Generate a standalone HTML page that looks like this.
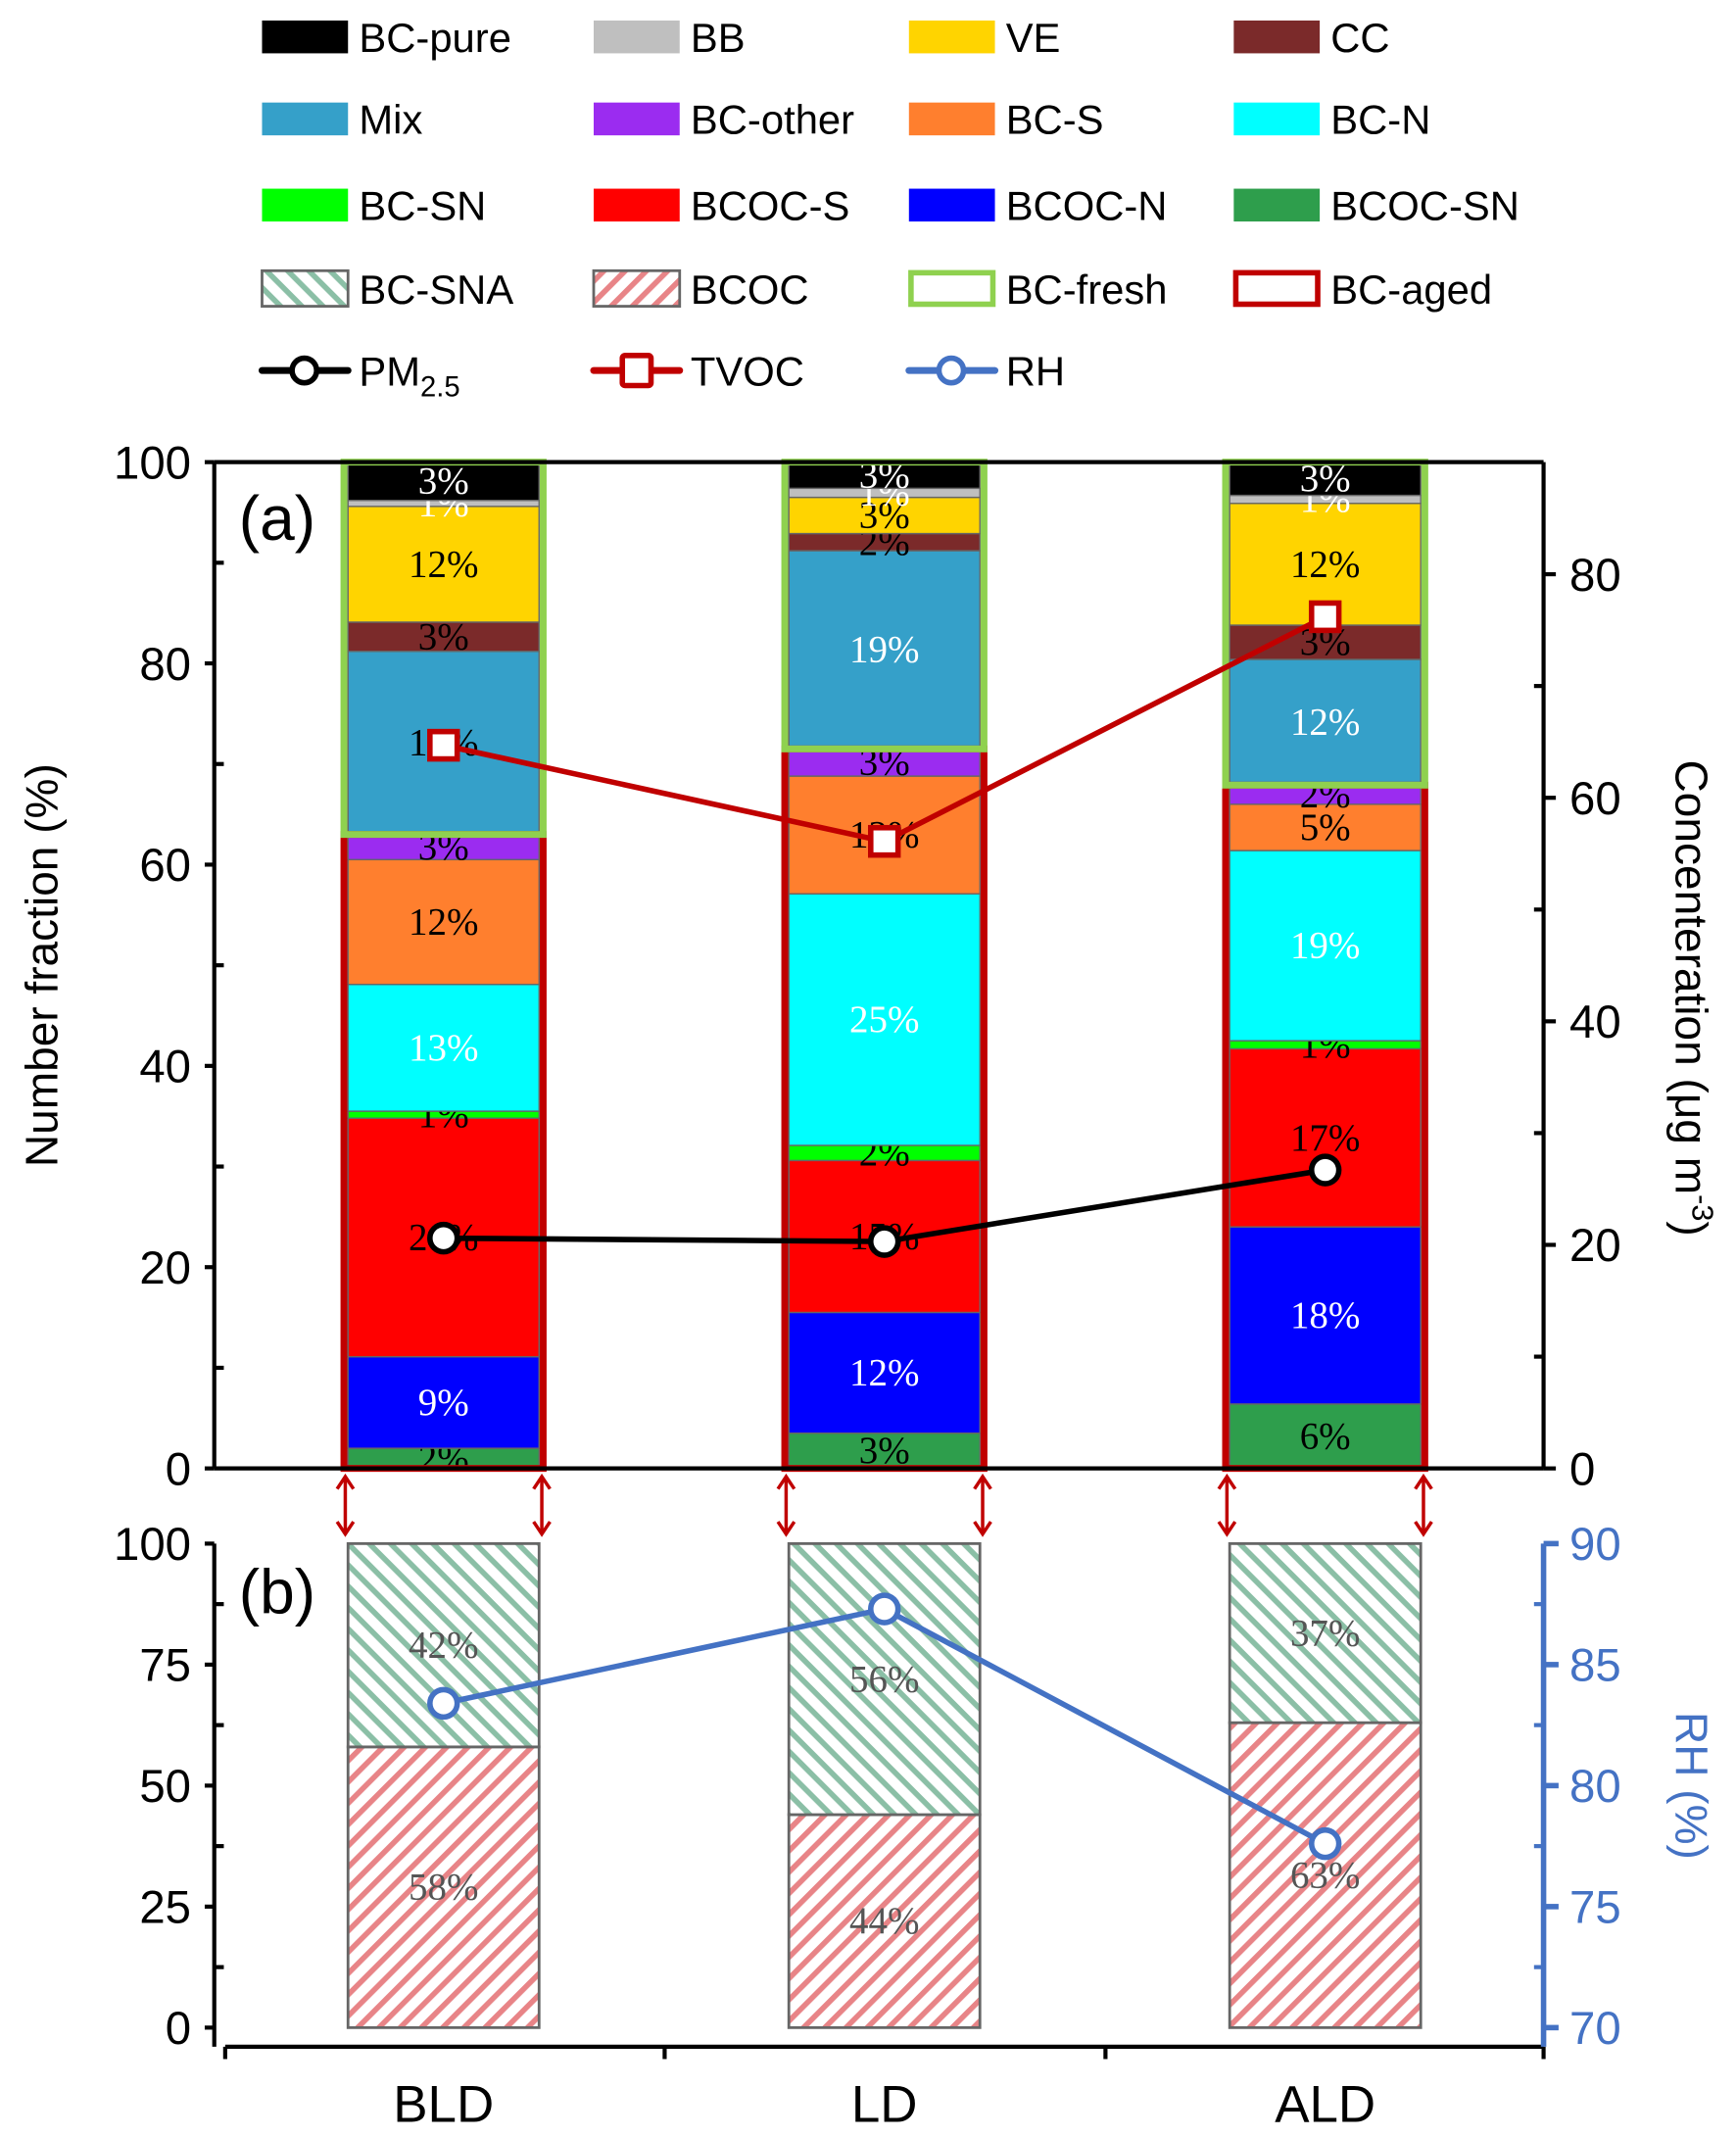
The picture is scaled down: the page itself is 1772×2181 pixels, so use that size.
<!DOCTYPE html>
<html><head><meta charset="utf-8"><style>
html,body{margin:0;padding:0;background:#fff}
svg{display:block}
text{font-family:"Liberation Sans",Arial,sans-serif}
.seg{font-family:"Liberation Serif","Times New Roman",serif;font-size:28px}
</style></head><body>
<svg id="chart" width="1772" height="2181" viewBox="0 0 1272 1563" preserveAspectRatio="none" xmlns="http://www.w3.org/2000/svg">
<defs>
<pattern id="hatchG" patternUnits="userSpaceOnUse" width="11" height="11" patternTransform="rotate(45)">
<rect width="11" height="11" fill="#fff"/><rect width="11" height="4" fill="#8bbfa6"/></pattern>
<pattern id="hatchR" patternUnits="userSpaceOnUse" width="11" height="11" patternTransform="rotate(-45)">
<rect width="11" height="11" fill="#fff"/><rect width="11" height="4" fill="#e88487"/></pattern>
</defs>
<g id="legend"></g>
<g id="panelA"></g>
<g id="panelB"></g>
</svg>
<script>
const categories = ["BLD","LD","ALD"];
const segNames = ["BCOC-SN","BCOC-N","BCOC-S","BC-SN","BC-N","BC-S","BC-other","Mix","CC","VE","BB","BC-pure"];
const segColors = ["#2e9e4c","#0000ff","#ff0000","#00ff00","#00ffff","#ff7f2e","#9b2cf0","#35a0c9","#7b2a2a","#ffd400","#bfbfbf","#000000"];
const valuesBLD = [2,9.1,23.7,0.7,12.6,12.4,2.5,18.2,2.9,11.5,0.6,3.8];
const valuesLD  = [3.5,12,15.1,1.5,25,11.7,2.7,19.7,1.7,3.6,0.9,2.6];
const valuesALD = [6.4,17.6,17.7,0.8,18.9,4.6,1.9,12.5,3.4,12.1,0.8,3.3];
const labelsBLD = ["2%","9%","24%","1%","13%","12%","3%","18%","3%","12%","1%","3%"];
const labelsLD  = ["3%","12%","15%","2%","25%","12%","3%","19%","2%","3%","1%","3%"];
const labelsALD = ["6%","18%","17%","1%","19%","5%","2%","12%","3%","12%","1%","3%"];
const whiteLabel = [false,true,false,false,true,false,false,true,false,false,true,true];
const pm25 = [20.6,20.3,26.7];
const tvoc = [64.7,56.1,76.2];
const bcocFrac = [58,44,63];
const rh = [83.4,87.3,77.6];
const leftTicksA = [0,20,40,60,80,100];
const rightTicksA = [0,20,40,60,80];
const leftTicksB = [0,25,50,75,100];
const rightTicksB = [70,75,80,85,90];

const NS="http://www.w3.org/2000/svg";
function mk(tag,attrs,parent,txt){const e=document.createElementNS(NS,tag);for(const k in attrs)e.setAttribute(k,attrs[k]);if(txt!==undefined)e.textContent=txt;parent.appendChild(e);return e;}
const xC = i => 325 + i*323;
const barW = 140;
const yA = v => 1074 - v*7.36;
const yAR = v => 1074 - v*8.175;
const yB = v => 1483 - v*3.54;
const yBR = v => 1483 - (v-70)*17.7;

// Legend
const L=document.getElementById('legend');
const legCols=[192,435,666,904];
const legRows=[27,87,150,211,271];
const legItems=[["BC-pure","#000"],["BB","#bfbfbf"],["VE","#ffd400"],["CC","#7b2a2a"],
["Mix","#35a0c9"],["BC-other","#9b2cf0"],["BC-S","#ff7f2e"],["BC-N","#00ffff"],
["BC-SN","#00ff00"],["BCOC-S","#ff0000"],["BCOC-N","#0000ff"],["BCOC-SN","#2e9e4c"],
["BC-SNA","hatchG"],["BCOC","hatchR"],["BC-fresh","fresh"],["BC-aged","aged"]];
legItems.forEach((it,k)=>{
  const cx=legCols[k%4], cy=legRows[Math.floor(k/4)];
  const g=mk('g',{},L);
  
  
  let a;
  if(it[1]==="hatchG"||it[1]==="hatchR") a={x:cx,y:cy-13,width:63,height:26,fill:'url(#'+it[1]+')',stroke:'#666','stroke-width':2};
  else if(it[1]==="fresh") a={x:cx+1.5,y:cy-11.5,width:60,height:23,fill:'#fff',stroke:'#8fd14f','stroke-width':4};
  else if(it[1]==="aged") a={x:cx+1.5,y:cy-11.5,width:60,height:23,fill:'#fff',stroke:'#c00000','stroke-width':4};
  else a={x:cx,y:cy-12,width:63,height:24,fill:it[1]};
  mk('rect',a,g);
  mk('text',{x:legCols[k%4]+71,y:cy+11,'font-size':30},g,it[0]);
});
[["PM","#000","circle",192],["TVOC","#c00000","square",435],["RH","#4472c4","circle",666]].forEach(d=>{
  const g=mk('g',{},L);
  
  
  const cy=271;
  mk('line',{x1:d[3],y1:cy,x2:d[3]+63,y2:cy,stroke:d[1],'stroke-width':5,'stroke-linecap':'round'},g);
  if(d[2]==="circle") mk('circle',{cx:d[3]+31,cy:cy,r:9,fill:'#fff',stroke:d[1],'stroke-width':4},g);
  else mk('rect',{x:d[3]+21,y:cy-11,width:21,height:22,fill:'#fff',stroke:d[1],'stroke-width':4,rx:2},g);
  const t=mk('text',{x:d[3]+71,y:cy+11,'font-size':30},g);
  if(d[0]==="PM"){t.textContent="PM";mk('tspan',{'font-size':21,dy:8},t,"2.5");}
  else t.textContent=d[0];
});

// Panel A
const A=document.getElementById('panelA');
const allVals=[valuesBLD,valuesLD,valuesALD], allLabs=[labelsBLD,labelsLD,labelsALD];
allVals.forEach((vals,i)=>{
  const g=mk('g',{},A);
  
  
  let cum=0;
  vals.forEach((v,j)=>{
    const y0=yA(cum), y1=yA(Math.min(cum+v,100));
    const r=mk('rect',{x:xC(i)-barW/2,y:y1,width:barW,height:y0-y1,fill:segColors[j],stroke:'#666','stroke-width':1},g);
    
    
    const white = whiteLabel[j] && !(i===0 && j===7);
    const t=mk('text',{x:xC(i),y:(y0+y1)/2+9,'text-anchor':'middle',class:'seg',fill:white?'#fff':'#000'},g,allLabs[i][j]);
    
    
    cum+=v;
  });
  let aged=0; for(let j=0;j<7;j++) aged+=vals[j];
  const fa=mk('rect',{x:xC(i)-barW/2-3,y:yA(aged),width:barW+6,height:yA(0)-yA(aged),fill:'none',stroke:'#c00000','stroke-width':5},g);
  
  
  const ff=mk('rect',{x:xC(i)-barW/2-3,y:yA(100),width:barW+6,height:yA(aged)-yA(100),fill:'none',stroke:'#8fd14f','stroke-width':5},g);
  
  
});
mk('line',{x1:157,y1:338,x2:1131,y2:338,stroke:'#000','stroke-width':3},A);
mk('line',{x1:157,y1:1074,x2:1131,y2:1074,stroke:'#000','stroke-width':3},A);
mk('line',{x1:157,y1:338,x2:157,y2:1074,stroke:'#000','stroke-width':3},A);
mk('line',{x1:1131,y1:338,x2:1131,y2:1074,stroke:'#000','stroke-width':3},A);
leftTicksA.forEach(v=>{mk('line',{x1:150,y1:yA(v),x2:157,y2:yA(v),stroke:'#000','stroke-width':3},A);
  mk('text',{x:140,y:yA(v)+12,'text-anchor':'end','font-size':34},A,String(v));});
for(let v=10;v<100;v+=20) mk('line',{x1:157,y1:yA(v),x2:164,y2:yA(v),stroke:'#000','stroke-width':3},A);
rightTicksA.forEach(v=>{mk('line',{x1:1131,y1:yAR(v),x2:1140,y2:yAR(v),stroke:'#000','stroke-width':3},A);
  mk('text',{x:1150,y:yAR(v)+12,'font-size':34},A,String(v));});
for(let v=10;v<90;v+=20) mk('line',{x1:1124,y1:yAR(v),x2:1131,y2:yAR(v),stroke:'#000','stroke-width':3},A);
const yl=mk('text',{x:0,y:0,'font-size':33,'text-anchor':'middle',transform:'translate(42,706) rotate(-90)'},A,'Number fraction (%)');

const yr=mk('text',{x:0,y:0,'font-size':33,'text-anchor':'middle',transform:'translate(1228,730) rotate(90)'},A);

yr.textContent='Concenteration (μg m';mk('tspan',{'font-size':22,dy:-12},yr,'-3');mk('tspan',{dy:12},yr,')');
mk('text',{x:175,y:395,'font-size':46},A,'(a)');
function polyline(parent,arr,fx,fy,color,name){
  const pts=arr.map((v,i)=>fx(i)+','+fy(v)).join(' ');
  const p=mk('polyline',{points:pts,fill:'none',stroke:color,'stroke-width':4},parent);
  
  
}
polyline(A,pm25,xC,yAR,'#000','pm25-line');
pm25.forEach((v,i)=>{const c=mk('circle',{cx:xC(i),cy:yAR(v),r:10,fill:'#fff',stroke:'#000','stroke-width':4},A);
  });
polyline(A,tvoc,xC,yAR,'#c00000','tvoc-line');
tvoc.forEach((v,i)=>{const c=mk('rect',{x:xC(i)-10,y:yAR(v)-10,width:20,height:20,fill:'#fff',stroke:'#c00000','stroke-width':4},A);
  });
[0,1,2].forEach(i=>[-1,1].forEach(s=>{
  const x=xC(i)+s*72;
  const g=mk('g',{stroke:'#c00000','stroke-width':2.5,fill:'none'},A);
  
  mk('line',{x1:x,y1:1080,x2:x,y2:1122},g);
  mk('polyline',{points:`${x-6},${1089} ${x},${1080} ${x+6},${1089}`},g);
  mk('polyline',{points:`${x-6},${1113} ${x},${1122} ${x+6},${1113}`},g);
}));

// Panel B
const B=document.getElementById('panelB');
bcocFrac.forEach((v,i)=>{
  const g=mk('g',{},B);
  
  
  const x=xC(i)-barW/2;
  mk('rect',{x:x,y:yB(v),width:barW,height:yB(0)-yB(v),fill:'url(#hatchR)',stroke:'#666','stroke-width':2},g);
  mk('rect',{x:x,y:yB(100),width:barW,height:yB(v)-yB(100),fill:'url(#hatchG)',stroke:'#666','stroke-width':2},g);
  mk('text',{x:xC(i),y:(yB(0)+yB(v))/2+9,'text-anchor':'middle',class:'seg',fill:'#555'},g,Math.round(v)+'%');
  mk('text',{x:xC(i),y:(yB(v)+yB(100))/2+9,'text-anchor':'middle',class:'seg',fill:'#555'},g,Math.round(100-v)+'%');
});
mk('line',{x1:157,y1:1129,x2:157,y2:1497,stroke:'#000','stroke-width':3},B);
mk('line',{x1:165,y1:1497,x2:1131,y2:1497,stroke:'#000','stroke-width':3},B);
[165,487,810,1131].forEach(x=>mk('line',{x1:x,y1:1497,x2:x,y2:1506,stroke:'#000','stroke-width':3},B));
leftTicksB.forEach(v=>{mk('line',{x1:150,y1:yB(v),x2:157,y2:yB(v),stroke:'#000','stroke-width':3},B);
  mk('text',{x:140,y:yB(v)+12,'text-anchor':'end','font-size':34},B,String(v));});
for(let v=12.5;v<100;v+=25) mk('line',{x1:157,y1:yB(v),x2:164,y2:yB(v),stroke:'#000','stroke-width':3},B);
mk('line',{x1:1131,y1:1129,x2:1131,y2:1497,stroke:'#4472c4','stroke-width':4},B);
rightTicksB.forEach(v=>{mk('line',{x1:1131,y1:yBR(v),x2:1142,y2:yBR(v),stroke:'#4472c4','stroke-width':4},B);
  mk('text',{x:1150,y:yBR(v)+12,'font-size':34,fill:'#4472c4'},B,String(v));});
for(let v=72.5;v<90;v+=5) mk('line',{x1:1124,y1:yBR(v),x2:1131,y2:yBR(v),stroke:'#4472c4','stroke-width':3},B);
const rt=mk('text',{x:0,y:0,'font-size':33,fill:'#4472c4','text-anchor':'middle',transform:'translate(1228,1306) rotate(90)'},B,'RH (%)');

mk('text',{x:175,y:1180,'font-size':46},B,'(b)');
categories.forEach((c,i)=>{const t=mk('text',{x:xC(i),y:1552,'text-anchor':'middle','font-size':38},B,c);
  });
polyline(B,rh,xC,yBR,'#4472c4','rh-line');
rh.forEach((v,i)=>{const c=mk('circle',{cx:xC(i),cy:yBR(v),r:10,fill:'#fff',stroke:'#4472c4','stroke-width':4},B);
  });
</script>
</body></html>
